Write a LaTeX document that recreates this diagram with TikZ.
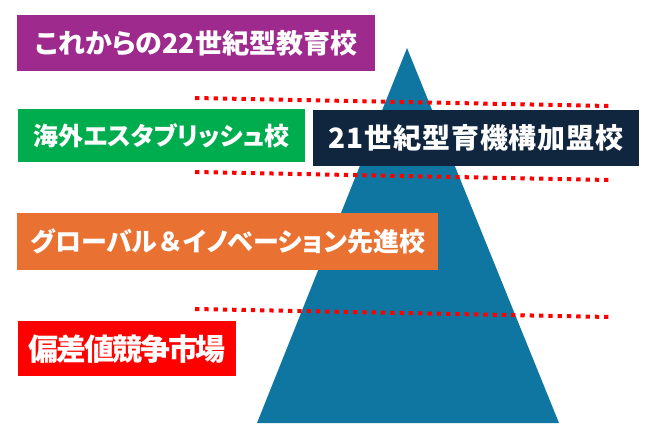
\documentclass[tikz,border=0pt]{standalone}
\usepackage{fontspec}
\newfontfamily\jp{Noto Sans CJK JP}
\newfontfamily\jpp{Noto Sans CJK JP}[RawFeature=+palt]
\definecolor{cPurple}{HTML}{9E2A8E}
\definecolor{cGreen}{HTML}{00AD4E}
\definecolor{cNavy}{HTML}{10263F}
\definecolor{cOrange}{HTML}{E97132}
\definecolor{cRed}{HTML}{FF0000}
\definecolor{cTeal}{HTML}{0E76A0}
\tikzset{
  lbl/.style={anchor=north west, inner sep=0pt, text=white, align=center, font=\bfseries},
  sep/.style={draw=cRed, line width=4pt, dash pattern=on 4.3pt off 5pt},
}
\begin{document}
\begin{tikzpicture}[x=1pt,y=-1pt]
\useasboundingbox (0,0) rectangle (650,432);
% pyramid
\coordinate (apex) at (407,48);
\coordinate (bl) at (257,423);
\coordinate (br) at (559,423);
\fill[cTeal] (apex) -- (br) -- (bl) -- cycle;
% separators
\coordinate (s1a) at (195,98);  \coordinate (s1b) at (610,106);
\coordinate (s2a) at (195,172); \coordinate (s2b) at (610,180);
\coordinate (s3a) at (195,309); \coordinate (s3b) at (610,317);
\draw[sep] (s1a) -- (s1b);
\draw[sep] (s2a) -- (s2b);
\draw[sep] (s3a) -- (s3b);
% boxes
\node[lbl, fill=cPurple, minimum width=358pt, minimum height=56pt] (p) at (17,15)
  {\jpp\bfseries\fontsize{27pt}{27pt}\selectfont これからの22世紀型教育校};
\node[lbl, fill=cGreen, minimum width=287pt, minimum height=53pt] (g) at (18,109)
  {\jpp\bfseries\fontsize{25pt}{25pt}\selectfont 海外エスタブリッシュ校};
\node[lbl, fill=cNavy, minimum width=326pt, minimum height=56pt] (n) at (313,110)
  {\jp\bfseries\fontsize{28pt}{28pt}\selectfont\addfontfeature{LetterSpace=3}21世紀型育機構加盟校};
\node[lbl, fill=cOrange, minimum width=421pt, minimum height=57pt] (o) at (17,213)
  {\jpp\bfseries\fontsize{26pt}{26pt}\selectfont グローバル{\jp\bfseries ＆}イノベーション先進校};
\node[lbl, fill=cRed, minimum width=218pt, minimum height=55pt] (r) at (18,321)
  {\jp\bfseries\fontsize{30pt}{30pt}\selectfont\addfontfeature{LetterSpace=-7}偏差値競争市場};
\end{tikzpicture}
\end{document}
